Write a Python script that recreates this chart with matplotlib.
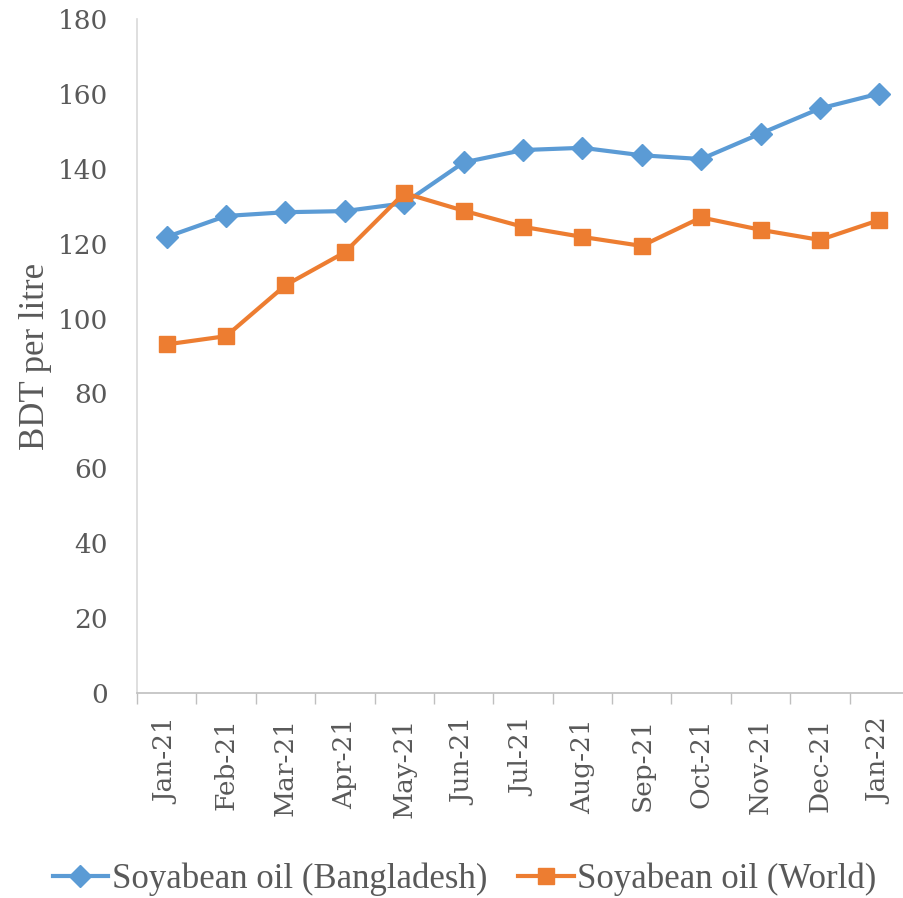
import matplotlib
matplotlib.use("Agg")
import matplotlib.pyplot as plt
from matplotlib.ticker import FixedLocator

# Monthly soyabean oil prices, BDT per litre
months = ["Jan-21", "Feb-21", "Mar-21", "Apr-21", "May-21", "Jun-21", "Jul-21",
          "Aug-21", "Sep-21", "Oct-21", "Nov-21", "Dec-21", "Jan-22"]
bangladesh = [121.8, 127.4, 128.4, 128.7, 130.8, 141.7, 145.0,
              145.6, 143.6, 142.6, 149.4, 156.1, 160.1]
world = [93.1, 95.3, 108.9, 117.7, 133.5, 128.8, 124.5,
         121.8, 119.4, 127.0, 123.7, 121.0, 126.3]

BLUE = "#5B9BD5"
ORANGE = "#ED7D31"
TEXT = "#595959"

fig = plt.figure(figsize=(9.04, 8.98), dpi=100)
ax = fig.add_axes([137 / 904, 205 / 898, 772 / 904, 674 / 898])

x = list(range(len(months)))
ax.plot(x, bangladesh, color=BLUE, lw=3, marker="D", ms=11,
        label="Soyabean oil (Bangladesh)", zorder=3)
ax.plot(x, world, color=ORANGE, lw=3, marker="s", ms=12,
        label="Soyabean oil (World)", zorder=3)

ax.set_xlim(-0.5, len(months) - 0.5)
ax.set_ylim(0, 180)
ax.set_yticks(range(0, 181, 20))

ax.set_xticks(x)
ax.set_xticklabels(months, rotation=90, fontfamily="DejaVu Serif",
                   fontsize=19, color=TEXT)
ax.xaxis.set_minor_locator(FixedLocator([i - 0.5 for i in range(len(months) + 1)]))
ax.tick_params(axis="x", which="major", length=0, pad=18)
ax.tick_params(axis="x", which="minor", length=8, width=1, color="#BFBFBF")
ax.tick_params(axis="y", length=0, pad=21, labelsize=19, labelcolor=TEXT)
for lbl in ax.get_yticklabels():
    lbl.set_fontfamily("DejaVu Serif")

for side in ("top", "right"):
    ax.spines[side].set_visible(False)
ax.spines["left"].set_color("#D9D9D9")
ax.spines["left"].set_linewidth(1.2)
ax.spines["bottom"].set_color("#BFBFBF")
ax.spines["bottom"].set_linewidth(1.2)

ax.set_ylabel("BDT per litre", fontfamily="Liberation Serif", fontsize=25,
              color=TEXT, labelpad=4)

leg = fig.legend(loc="center", bbox_to_anchor=(0.514, 19 / 898), ncol=2,
                 frameon=False, handlelength=1.6, handletextpad=0.1,
                 columnspacing=0.9,
                 prop={"family": "Liberation Serif", "size": 25})
for t in leg.get_texts():
    t.set_color(TEXT)

fig.savefig("out.png", dpi=100)
